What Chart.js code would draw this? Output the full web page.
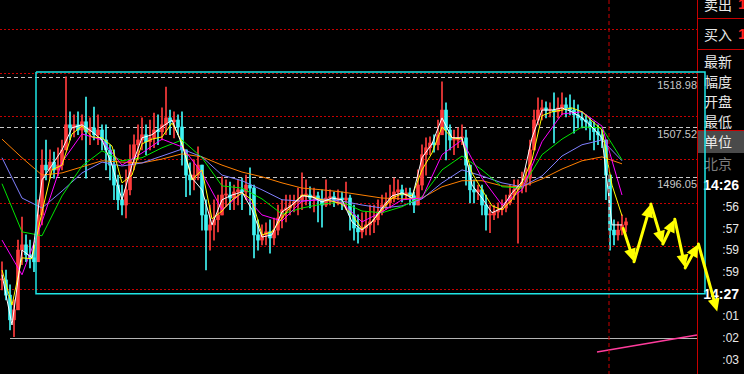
<!DOCTYPE html>
<html>
<head>
<meta charset="utf-8">
<title>分时K线</title>
<script src="https://cdn.jsdelivr.net/npm/chart.js@4.4.1/dist/chart.umd.min.js"></script>
<style>
  html, body { margin: 0; padding: 0; background: #000; }
  #stage { position: relative; width: 744px; height: 374px; overflow: hidden; background: #000; }
  #kline { position: absolute; left: 0; top: 0; z-index: 2; }
  .base { position: absolute; left: 10px; top: 338px; width: 688px; height: 1px; background: #b4b4b4; }
  .mark { position: absolute; right: 47px; font: 11px 'Liberation Sans', Arial, sans-serif; line-height: 13px; color: #c8c8c8; }
  #panel { position: absolute; left: 697px; top: 0; width: 46px; height: 374px; border-left: 1px solid #c80000; }
  #panel .rule { position: absolute; left: 0; right: 0; height: 1px; background: #c80000; }
  #panel .hl { position: absolute; left: 0; right: 0; height: 22px; background: #4a4a4a; border-top: 1px solid #c80000; }
  #panel .cn { position: absolute; left: 6px; font: 14px 'Noto Sans CJK SC', sans-serif; line-height: 20px; color: #e8e8e8; }
  #panel .cn.dim { color: #7c7c7c; }
  #panel .up { position: absolute; left: 40px; font: bold 15px 'Liberation Sans', sans-serif; line-height: 20px; color: #ff2020; }
  #panel .tm { position: absolute; right: 5px; font: 12px 'Liberation Sans', sans-serif; line-height: 16px; color: #e8e8e8; }
  #panel .tm.b { font-weight: bold; font-size: 14px; color: #fff; }
</style>
</head>
<body>
<div id="stage">
  <div class="base"></div>
  <div id="panel">
    <div class="rule" style="top:18px"></div>
    <div class="rule" style="top:49px"></div>
    <div class="hl" style="top:130px"></div>
    <div class="cn" style="top:-6px">卖出</div><div class="up" style="top:-6px">1</div>
    <div class="cn" style="top:24px">买入</div><div class="up" style="top:24px">1</div>
    <div class="cn" style="top:51px">最新</div>
    <div class="cn" style="top:71px">幅度</div>
    <div class="cn" style="top:91px">开盘</div>
    <div class="cn" style="top:111px">最低</div>
    <div class="cn" style="top:131px">单位</div>
    <div class="cn dim" style="top:153px">北京</div>
    <div class="tm b" style="top:177px">14:26</div>
    <div class="tm" style="top:199px">:56</div>
    <div class="tm" style="top:221px">:57</div>
    <div class="tm" style="top:242px">:59</div>
    <div class="tm" style="top:264px">:59</div>
    <div class="tm b" style="top:286px">14:27</div>
    <div class="tm" style="top:308px">:01</div>
    <div class="tm" style="top:330px">:02</div>
    <div class="tm" style="top:352px">:03</div>
  </div>
  <canvas id="kline" width="744" height="374"></canvas>
</div>
<script>
// visible price window
const yMin = 1450.6
const yMax = 1536.9
const gridLevels = [1470, 1480, 1490, 1500, 1510, 1520, 1530]
const priceMarks = [1496.05, 1507.52, 1518.98]

// minute bars, index = bar number
const highs = [
  1476.5, 1474.6, 1471.2, 1467.7, 1481.5, 1486.8, 1482.7, 1481.5, 1480.4, 1490.8,
  1502.3, 1504.6, 1502.3, 1501.8, 1502.8, 1504.6, 1519.2, 1511.1, 1510.4, 1511.1,
  1510.4, 1514.5, 1509.7, 1512.2, 1510.4, 1508.1, 1508.1, 1503.5, 1502.3, 1496.5,
  1494.2, 1497.7, 1503.5, 1505.8, 1508.1, 1509.7, 1508.1, 1509.2, 1510.8, 1510.4,
  1512.0, 1516.8, 1511.5, 1511.1, 1510.4, 1511.1, 1502.3, 1499.3, 1500.0, 1503.0,
  1498.8, 1490.8, 1489.6, 1490.8, 1491.9, 1496.1, 1495.4, 1494.9, 1494.2, 1495.4,
  1495.8, 1496.5, 1498.2, 1494.2, 1486.2, 1485.0, 1485.5, 1486.2, 1486.6, 1489.6,
  1490.8, 1491.9, 1491.9, 1491.9, 1493.5, 1497.0, 1495.4, 1493.8, 1493.5, 1492.6,
  1493.1, 1495.4, 1493.1, 1492.6, 1493.1, 1492.6, 1494.9, 1491.9, 1489.6, 1487.3,
  1487.8, 1488.0, 1489.6, 1489.6, 1490.8, 1491.9, 1492.4, 1494.2, 1495.8, 1495.4,
  1494.2, 1493.5, 1493.5, 1492.6, 1497.7, 1503.5, 1505.1, 1505.3, 1505.8, 1509.2,
  1518.0, 1513.2, 1508.1, 1506.9, 1507.4, 1508.1, 1506.9, 1498.8, 1495.4, 1494.2,
  1494.2, 1491.9, 1489.6, 1489.6, 1490.1, 1490.8, 1491.9, 1494.2, 1495.4, 1495.4,
  1497.2, 1498.2, 1504.6, 1511.5, 1514.3, 1513.8, 1513.4, 1513.2, 1515.5, 1514.3,
  1515.5, 1514.3, 1515.0, 1513.8, 1512.7, 1511.1, 1510.4, 1509.7, 1508.8, 1508.1,
  1506.9, 1504.6, 1496.5, 1486.2, 1485.7, 1487.3, 1486.6
]
const lows = [
  1470.0, 1467.7, 1460.8, 1459.2, 1467.7, 1475.8, 1476.5, 1475.1, 1474.2, 1476.5,
  1485.0, 1495.4, 1495.8, 1495.8, 1496.3, 1497.7, 1504.6, 1504.6, 1505.3, 1505.8,
  1504.6, 1495.8, 1503.5, 1504.6, 1503.5, 1502.3, 1497.7, 1495.4, 1490.8, 1488.5,
  1487.3, 1486.6, 1491.9, 1497.7, 1500.0, 1502.3, 1501.2, 1502.3, 1502.8, 1503.5,
  1504.6, 1505.8, 1505.8, 1505.1, 1505.8, 1498.8, 1491.5, 1491.9, 1493.1, 1495.4,
  1483.8, 1474.6, 1479.2, 1481.5, 1483.4, 1487.3, 1489.2, 1488.5, 1488.5, 1489.6,
  1488.5, 1490.8, 1487.3, 1477.4, 1479.2, 1480.4, 1480.4, 1478.5, 1480.4, 1482.7,
  1484.3, 1485.7, 1487.3, 1488.0, 1487.3, 1488.5, 1489.6, 1488.9, 1488.0, 1485.7,
  1484.5, 1489.2, 1489.6, 1489.2, 1489.6, 1488.5, 1488.5, 1483.8, 1481.5, 1480.8,
  1482.0, 1482.7, 1482.7, 1483.2, 1485.0, 1487.3, 1488.5, 1488.9, 1490.3, 1490.8,
  1490.3, 1490.8, 1489.6, 1487.8, 1489.6, 1493.1, 1496.5, 1501.2, 1501.8, 1502.3,
  1505.8, 1500.0, 1502.3, 1501.2, 1502.8, 1503.5, 1494.2, 1490.1, 1490.1, 1490.8,
  1487.3, 1483.8, 1483.2, 1486.2, 1486.6, 1487.3, 1488.0, 1489.6, 1490.8, 1480.8,
  1492.4, 1492.6, 1494.2, 1502.3, 1508.1, 1509.2, 1509.7, 1509.9, 1503.9, 1509.7,
  1510.4, 1509.9, 1510.4, 1506.2, 1507.4, 1507.4, 1506.9, 1504.6, 1502.3, 1503.5,
  1502.8, 1490.8, 1479.2, 1480.4, 1481.5, 1482.7, 1483.4
]
const closes = [
  1472.3, 1468.8, 1463.1, 1465.4, 1479.2, 1480.4, 1478.1, 1477.4, 1476.5, 1487.3,
  1498.8, 1497.7, 1499.5, 1497.7, 1498.8, 1502.3, 1508.1, 1507.4, 1508.1, 1506.9,
  1508.8, 1506.5, 1507.4, 1505.8, 1506.9, 1504.6, 1502.3, 1498.8, 1494.2, 1490.8,
  1489.6, 1493.1, 1500.0, 1503.5, 1504.6, 1505.8, 1504.2, 1505.1, 1506.9, 1506.5,
  1508.1, 1509.7, 1508.8, 1509.2, 1507.6, 1502.3, 1496.5, 1495.4, 1496.5, 1498.8,
  1487.3, 1483.8, 1485.0, 1486.2, 1487.3, 1491.9, 1491.9, 1491.2, 1492.6, 1493.1,
  1492.6, 1494.2, 1493.5, 1482.7, 1481.5, 1482.7, 1483.4, 1482.0, 1483.8, 1486.6,
  1488.5, 1488.9, 1489.6, 1490.3, 1490.8, 1491.9, 1491.9, 1491.2, 1491.7, 1490.8,
  1489.6, 1491.2, 1491.5, 1490.8, 1491.2, 1490.8, 1491.2, 1487.3, 1484.3, 1483.4,
  1484.3, 1485.0, 1485.7, 1486.2, 1488.0, 1489.6, 1490.1, 1491.2, 1492.6, 1493.1,
  1491.9, 1492.4, 1491.7, 1489.6, 1494.2, 1501.2, 1502.8, 1503.9, 1503.5, 1505.8,
  1511.5, 1506.9, 1504.6, 1504.6, 1505.1, 1505.1, 1498.8, 1493.1, 1492.6, 1493.1,
  1489.6, 1487.3, 1487.3, 1488.0, 1488.5, 1488.9, 1490.1, 1491.9, 1493.1, 1493.5,
  1494.9, 1495.8, 1502.3, 1509.2, 1511.5, 1512.0, 1511.5, 1511.5, 1511.1, 1512.0,
  1512.7, 1512.0, 1511.5, 1510.4, 1509.7, 1509.2, 1508.8, 1507.4, 1506.5, 1505.8,
  1504.6, 1496.5, 1483.8, 1482.7, 1483.8, 1485.0, 1485.7
]

// short averages, read every 2.5 bars
const maFineBars = [
  0, 2.5, 5, 7.5, 10, 12.5, 15, 17.5, 20, 22.5, 25, 27.5, 30, 32.5, 35, 37.5,
  40, 42.5, 45, 47.5, 50, 52.5, 55, 57.5, 60, 62.5, 65, 67.5, 70, 72.5, 75, 77.5,
  80, 82.5, 85, 87.5, 90, 92.5, 95, 97.5, 100, 102.5, 105, 107.5, 110, 112.5, 115, 117.5,
  120, 122.5, 125, 127.5, 130, 132.5, 135, 137.5, 140, 142.5, 145, 147.5, 150, 152.5, 155
]
const maWhite = [
  1473.5, 1461.9, 1479.2, 1477.4, 1495.4, 1498.8, 1502.3, 1507.4, 1508.1, 1506.5,
  1504.6, 1498.8, 1490.8, 1498.8, 1505.1, 1505.8, 1507.6, 1509.2, 1503.5, 1495.8,
  1493.1, 1485.0, 1490.8, 1491.9, 1492.6, 1488.5, 1482.2, 1482.7, 1488.0, 1489.6,
  1491.7, 1491.5, 1490.3, 1491.2, 1490.8, 1485.7, 1483.8, 1485.7, 1488.9, 1491.7,
  1492.4, 1491.2, 1500.5, 1503.7, 1509.7, 1505.1, 1505.1, 1494.2, 1491.2, 1487.8,
  1488.9, 1492.4, 1494.9, 1505.1, 1511.5, 1511.5, 1512.0, 1511.1, 1509.7, 1507.6,
  1505.1, 1485.0, 1485.0
]
const maYellow = [
  1474.6, 1466.5, 1477.4, 1477.2, 1488.0, 1497.7, 1498.8, 1506.0, 1507.8, 1505.3,
  1505.1, 1503.2, 1494.7, 1496.5, 1503.7, 1504.8, 1505.3, 1508.5, 1504.2, 1495.4,
  1497.7, 1486.4, 1488.2, 1490.8, 1492.4, 1490.8, 1482.7, 1483.4, 1486.6, 1489.6,
  1491.9, 1491.5, 1490.8, 1490.5, 1489.8, 1487.3, 1484.1, 1485.7, 1488.5, 1491.2,
  1492.2, 1491.7, 1497.7, 1501.6, 1507.6, 1505.1, 1504.8, 1497.0, 1493.1, 1489.4,
  1488.5, 1490.8, 1494.7, 1500.0, 1510.2, 1511.1, 1511.5, 1512.0, 1511.1, 1509.0,
  1506.9, 1494.2, 1487.1
]

// longer averages, read every 5 bars
const maWideBars = [
  0, 5, 10, 15, 20, 25, 30, 35, 40, 45, 50, 55, 60, 65, 70, 75,
  80, 85, 90, 95, 100, 105, 110, 115, 120, 125, 130, 135, 140, 145, 150, 155
]
const maMagenta = [
  1481.5, 1473.5, 1485.7, 1499.5, 1506.0, 1504.6, 1498.8, 1501.6, 1504.8, 1503.0,
  1497.0, 1488.5, 1492.4, 1487.3, 1485.9, 1490.5, 1490.8, 1490.1, 1485.7, 1488.0,
  1490.8, 1491.2, 1501.2, 1504.6, 1495.8, 1489.6, 1493.1, 1504.2, 1510.6, 1511.1,
  1507.8, 1491.9
]
const maGreen = [
  1494.5, 1483.4, 1482.5, 1491.7, 1498.6, 1502.1, 1499.8, 1500.5, 1502.8, 1504.6,
  1500.5, 1494.0, 1493.5, 1491.0, 1487.5, 1488.9, 1489.8, 1490.3, 1488.2, 1487.8,
  1489.2, 1491.5, 1497.7, 1500.9, 1497.7, 1493.8, 1493.5, 1501.2, 1504.8, 1507.6,
  1507.4, 1500.0
]
const maBlue = [
  1500.5, 1491.2, 1488.9, 1492.8, 1497.0, 1499.5, 1498.6, 1499.3, 1500.9, 1502.5,
  1500.7, 1496.5, 1495.2, 1493.1, 1490.8, 1490.5, 1491.0, 1490.5, 1489.6, 1488.9,
  1489.4, 1491.0, 1494.7, 1497.7, 1496.3, 1494.7, 1493.8, 1496.3, 1500.9, 1503.5,
  1504.6, 1499.8
]
const maOrange = [
  1504.8, 1500.5, 1496.5, 1497.0, 1498.4, 1499.8, 1499.5, 1499.3, 1500.2, 1501.4,
  1500.7, 1498.8, 1497.2, 1496.1, 1494.7, 1493.5, 1493.1, 1492.6, 1491.9, 1491.2,
  1491.0, 1491.2, 1493.8, 1495.2, 1495.2, 1494.0, 1493.8, 1495.6, 1497.9, 1499.8,
  1500.7, 1499.1
]

// hand-drawn annotations (bar number / price)
const cursorBar = 151.75
const boxBars = [8.5, 175.75]
const boxPrices = [1469.1, 1520.3]
const arrowBars = [155.3, 158.0, 162.2, 165.2, 168.2, 170.8, 174.1, 178.8]
const arrowPrices = [1484.2, 1476.5, 1489.8, 1480.6, 1486.3, 1475.1, 1480.6, 1465.0]
const trendBars = [148.75, 173.75]
const trendValues = [1455.7, 1459.6]

const UP = '#ff3c3c'
const DOWN = '#40f4f4'

const opens = closes.map((c, i) => (i ? closes[i - 1] : c))
const candleColors = closes.map((c, i) => (c >= opens[i] ? UP : DOWN))
const pts = (xs, ys) => xs.map((x, i) => ({ x, y: ys[i] }))

function maLine(xs, ys, color) {
  return {
    type: 'line',
    data: pts(xs, ys),
    borderColor: color,
    borderWidth: 1,
    pointRadius: 0,
    tension: 0,
    fill: false
  }
}

/* ---- zigzag arrow drawn over everything ---- */
const zigzagArrow = {
  id: 'zigzagArrow',
  afterDatasetsDraw(chart) {
    const { ctx, scales: { x, y } } = chart
    const p = arrowBars.map((b, i) => ({ x: x.getPixelForValue(b), y: y.getPixelForValue(arrowPrices[i]) }))
    ctx.save()
    ctx.strokeStyle = '#ffff00'
    ctx.fillStyle = '#ffff00'
    ctx.lineWidth = 3
    ctx.lineCap = 'round'
    for (let i = 1; i < p.length; i++) {
      const a = p[i - 1], b = p[i]
      const ang = Math.atan2(b.y - a.y, b.x - a.x)
      const cos = Math.cos(ang), sin = Math.sin(ang)
      const bx = b.x - 13 * cos, by = b.y - 13 * sin
      ctx.beginPath()
      ctx.moveTo(a.x, a.y)
      ctx.lineTo(bx, by)
      ctx.stroke()
      ctx.beginPath()
      ctx.moveTo(b.x, b.y)
      ctx.lineTo(bx + 6 * sin, by - 6 * cos)
      ctx.lineTo(bx - 6 * sin, by + 6 * cos)
      ctx.closePath()
      ctx.fill()
    }
    ctx.restore()
  }
}

const datasets = [
  {
    type: 'line',
    data: pts([boxBars[0], boxBars[1], boxBars[1], boxBars[0], boxBars[0]],
      [boxPrices[1], boxPrices[1], boxPrices[0], boxPrices[0], boxPrices[1]]),
    borderColor: '#1ee6e6',
    borderWidth: 1.5,
    pointRadius: 0,
    clip: false
  },
  {
    type: 'line',
    data: pts([cursorBar, cursorBar], [yMax, yMin]),
    borderColor: '#c80000',
    borderWidth: 1,
    borderDash: [4, 3],
    pointRadius: 0
  },
  {
    type: 'line',
    data: pts(trendBars, trendValues),
    borderColor: '#ff3c9c',
    borderWidth: 1.5,
    pointRadius: 0,
    clip: false
  },
  maLine(maFineBars, maWhite, '#ffffff'),
  maLine(maFineBars, maYellow, '#ffff00'),
  maLine(maWideBars, maMagenta, '#ff00ff'),
  maLine(maWideBars, maGreen, '#00e600'),
  maLine(maWideBars, maBlue, '#8080ff'),
  maLine(maWideBars, maOrange, '#ff8000'),
  {
    type: 'bar',
    data: closes.map((c, i) => ({ x: i, y: [opens[i], c] })),
    backgroundColor: candleColors,
    barThickness: 3,
    minBarLength: 1,
    grouped: false
  },
  {
    type: 'bar',
    data: highs.map((h, i) => ({ x: i, y: [lows[i], h] })),
    backgroundColor: candleColors,
    barThickness: 1,
    grouped: false
  }
]

const chart = new Chart(document.getElementById('kline'), {
  type: 'line',
  data: { datasets },
  options: {
    responsive: false,
    animation: false,
    events: [],
    layout: { padding: { left: 0, right: 46, top: 0, bottom: 0 } },
    plugins: { legend: { display: false }, tooltip: { enabled: false } },
    scales: {
      x: { type: 'linear', min: -0.5, max: 174, offset: false, display: false },
      y: {
        type: 'linear',
        position: 'left',
        min: yMin,
        max: yMax,
        afterBuildTicks: (s) => { s.ticks = gridLevels.map((v) => ({ value: v })) },
        ticks: { display: false },
        grid: { color: '#c80000', drawTicks: false },
        border: { display: false, dash: [2, 2] }
      },
      y2: {
        type: 'linear',
        position: 'right',
        min: yMin,
        max: yMax,
        afterBuildTicks: (s) => { s.ticks = priceMarks.map((v) => ({ value: v })) },
        ticks: { display: false },
        grid: { color: '#c8c8c8', drawTicks: false },
        border: { display: false, dash: [4, 3] }
      }
    }
  },
  plugins: [zigzagArrow]
})

// price marks sit just under their dashed lines
const stage = document.getElementById('stage')
priceMarks.forEach((v) => {
  const el = document.createElement('div')
  el.className = 'mark'
  el.textContent = v.toFixed(2)
  el.style.top = (chart.scales.y2.getPixelForValue(v) + 1) + 'px'
  stage.appendChild(el)
})
</script>
</body>
</html>
